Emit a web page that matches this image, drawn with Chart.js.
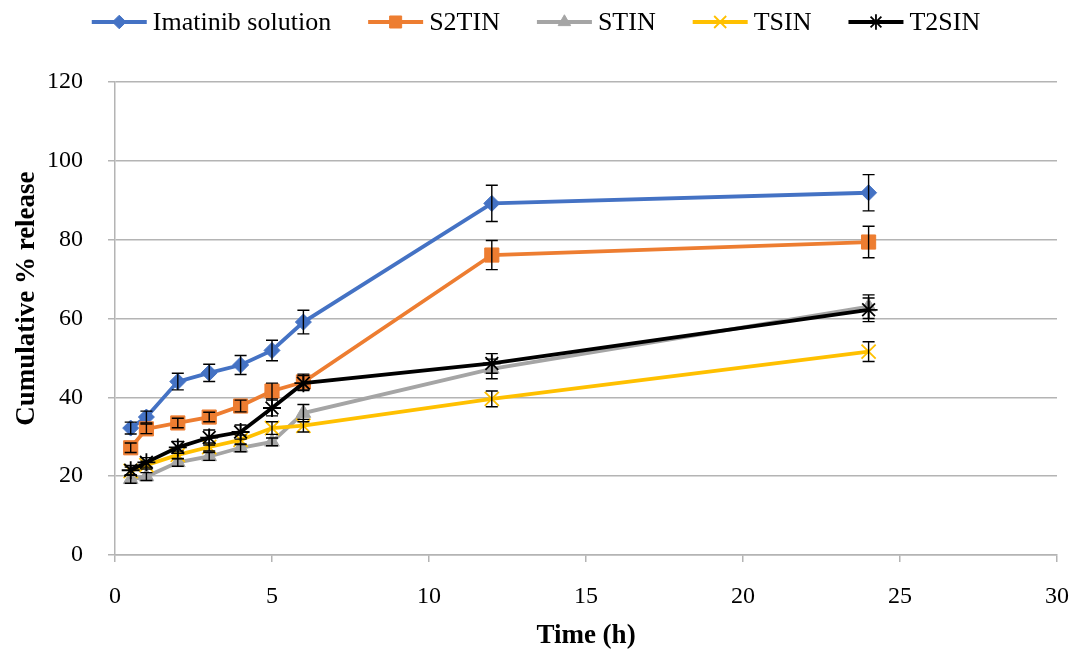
<!DOCTYPE html>
<html>
<head>
<meta charset="utf-8">
<script src="https://cdn.jsdelivr.net/npm/chart.js@4/dist/chart.umd.min.js"></script>
<style>
  body { margin: 0; background: #ffffff; }
  #wrap { width: 1072px; height: 650px; }
</style>
</head>
<body>
<div id="wrap"><canvas id="chart" width="1072" height="650"></canvas></div>
<script>
// Time points (h)
var timePoints = [0.5, 1, 2, 3, 4, 5, 6, 12, 24];

// Cumulative % release per formulation
var imatinib = [32.2, 35, 44, 46.2, 48.2, 51.9, 59.1, 89.2, 91.9];
var s2tin = [27.2, 32, 33.5, 35, 37.8, 41.6, 43.9, 76.1, 79.4];
var stin = [19.2, 19.9, 23.5, 25, 27.2, 28.7, 36, 47.2, 63];
var tsin = [21.3, 22.8, 25.4, 27.4, 29.2, 32.2, 32.8, 39.6, 51.6];
var t2sin = [21.5, 23.5, 27.3, 29.8, 31.2, 37.3, 43.6, 48.6, 62.2];

// Error bar half widths (same units)
var imatinibErr = [1.5, 1.5, 2.1, 2.2, 2.4, 2.6, 3, 4.6, 4.6];
var s2tinErr = [1.2, 1.2, 1.2, 1.2, 1.5, 2, 2, 3.7, 4];
var stinErr = [1, 1, 1, 1, 1, 1, 2.2, 2.5, 3];
var tsinErr = [1, 1, 1, 1, 1.2, 1.6, 1.6, 2, 2.5];
var t2sinErr = [1.2, 1.2, 1.5, 1.9, 1.8, 2, 1.9, 2.5, 3];

var xTicks = [0, 5, 10, 15, 20, 25, 30];
var yTicks = [0, 20, 40, 60, 80, 100, 120];

var yTitle = 'Cumulative % release';
var fontFamily = "'Liberation Serif', 'Times New Roman', serif";

function toPoints(values) {
  return timePoints.map(function (t, i) {
    return { x: t, y: values[i] };
  });
}

var series = [
  { label: 'Imatinib solution', data: imatinib, err: imatinibErr, color: '#4472C4', style: 'rectRot', radius: 8, order: 5 },
  { label: 'S2TIN', data: s2tin, err: s2tinErr, color: '#ED7D31', style: 'rect', radius: 10, order: 4 },
  { label: 'STIN', data: stin, err: stinErr, color: '#A5A5A5', style: 'triangle', radius: 8.5, order: 3 },
  { label: 'TSIN', data: tsin, err: tsinErr, color: '#FFC000', style: 'crossRot', radius: 10, order: 2 },
  { label: 'T2SIN', data: t2sin, err: t2sinErr, color: '#000000', style: 'star', radius: 9, order: 1 }
];

var datasets = series.map(function (s) {
  var cross = s.style === 'crossRot' || s.style === 'star';
  return {
    label: s.label,
    data: toPoints(s.data),
    errors: s.err,
    borderColor: s.color,
    backgroundColor: s.color,
    borderWidth: 3.8,
    pointStyle: s.style,
    pointRadius: s.radius,
    pointBorderWidth: cross ? 1.8 : 1,
    pointBorderColor: s.color,
    pointBackgroundColor: s.color,
    tension: 0,
    fill: false,
    order: s.order
  };
});

// Draws vertical error bars with caps
var errorBarPlugin = {
  id: 'errorBars',
  afterDatasetsDraw: function (chart) {
    var ctx = chart.ctx;
    var yScale = chart.scales.y;
    ctx.save();
    ctx.strokeStyle = '#000000';
    ctx.lineWidth = 1.4;
    chart.data.datasets.forEach(function (ds, di) {
      var meta = chart.getDatasetMeta(di);
      meta.data.forEach(function (pt, i) {
        var v = ds.data[i].y;
        var e = ds.errors[i];
        var top = yScale.getPixelForValue(v + e);
        var bottom = yScale.getPixelForValue(v - e);
        ctx.beginPath();
        ctx.moveTo(pt.x, top);
        ctx.lineTo(pt.x, bottom);
        ctx.moveTo(pt.x - 6, top);
        ctx.lineTo(pt.x + 6, top);
        ctx.moveTo(pt.x - 6, bottom);
        ctx.lineTo(pt.x + 6, bottom);
        ctx.stroke();
      });
    });
    ctx.restore();
  }
};

// Excel style legend (line with marker, then label) and the y axis title
var legendPlugin = {
  id: 'lineLegend',
  afterDraw: function (chart) {
    var ctx = chart.ctx;
    var lineLen = 55, gap = 6, spacing = 37, y = 22;
    ctx.save();
    ctx.font = '26px ' + fontFamily;
    var widths = series.map(function (s) { return ctx.measureText(s.label).width; });
    var total = 0;
    widths.forEach(function (w) { total += lineLen + gap + w; });
    total += spacing * (series.length - 1);
    var x = (chart.width - total) / 2;
    series.forEach(function (s, i) {
      ctx.strokeStyle = s.color;
      ctx.lineWidth = 3.8;
      ctx.beginPath();
      ctx.moveTo(x, y);
      ctx.lineTo(x + lineLen, y);
      ctx.stroke();
      var cross = s.style === 'crossRot' || s.style === 'star';
      ctx.fillStyle = s.color;
      ctx.strokeStyle = s.color;
      ctx.lineWidth = cross ? 1.8 : 1;
      Chart.helpers.drawPoint(ctx, {
        pointStyle: s.style,
        radius: s.radius * 0.85,
        rotation: 0,
        borderWidth: cross ? 1.8 : 1
      }, x + lineLen / 2, y);
      ctx.fillStyle = '#000000';
      ctx.textBaseline = 'middle';
      ctx.textAlign = 'left';
      ctx.fillText(s.label, x + lineLen + gap, y + 1);
      x += lineLen + gap + widths[i] + spacing;
    });

    // y axis title, set a little above the plot centre as in the source figure
    ctx.font = 'bold 27px ' + fontFamily;
    ctx.fillStyle = '#000000';
    ctx.textAlign = 'center';
    ctx.textBaseline = 'middle';
    ctx.translate(27, chart.chartArea.top + (chart.chartArea.bottom - chart.chartArea.top) * 0.458);
    ctx.rotate(-Math.PI / 2);
    ctx.fillText(yTitle, 0, 0);
    ctx.restore();
  }
};

var ctx = document.getElementById('chart').getContext('2d');
new Chart(ctx, {
  type: 'line',
  data: { datasets: datasets },
  plugins: [errorBarPlugin, legendPlugin],
  options: {
    responsive: false,
    animation: false,
    layout: { padding: { top: 82, right: 15, bottom: 0, left: 0 } },
    plugins: {
      legend: { display: false },
      tooltip: { enabled: false }
    },
    scales: {
      x: {
        type: 'linear',
        min: 0,
        max: 30,
        afterBuildTicks: function (scale) {
          scale.ticks = xTicks.map(function (v) { return { value: v }; });
        },
        afterFit: function (scale) {
          scale.height = 95;
          scale.paddingRight = 0;
          scale.paddingLeft = 0;
        },
        grid: { drawOnChartArea: false, drawTicks: true, tickLength: 7, color: '#b4b4b4', lineWidth: 1.5 },
        border: { color: '#b4b4b4', width: 1.5 },
        ticks: { padding: 20, color: '#000000', font: { family: fontFamily, size: 24 } },
        title: {
          display: true,
          text: 'Time (h)',
          color: '#000000',
          padding: { top: 0, bottom: 0 },
          font: { family: fontFamily, size: 27, weight: 'bold', lineHeight: 1 }
        }
      },
      y: {
        type: 'linear',
        min: 0,
        max: 120,
        afterBuildTicks: function (scale) {
          scale.ticks = yTicks.map(function (v) { return { value: v }; });
        },
        afterFit: function (scale) { scale.width = 115; },
        grid: { drawTicks: true, tickLength: 7, color: '#b4b4b4', lineWidth: 1.5 },
        border: { color: '#b4b4b4', width: 1.5 },
        ticks: { padding: 25, color: '#000000', font: { family: fontFamily, size: 24 } }
      }
    }
  }
});
</script>
</body>
</html>
